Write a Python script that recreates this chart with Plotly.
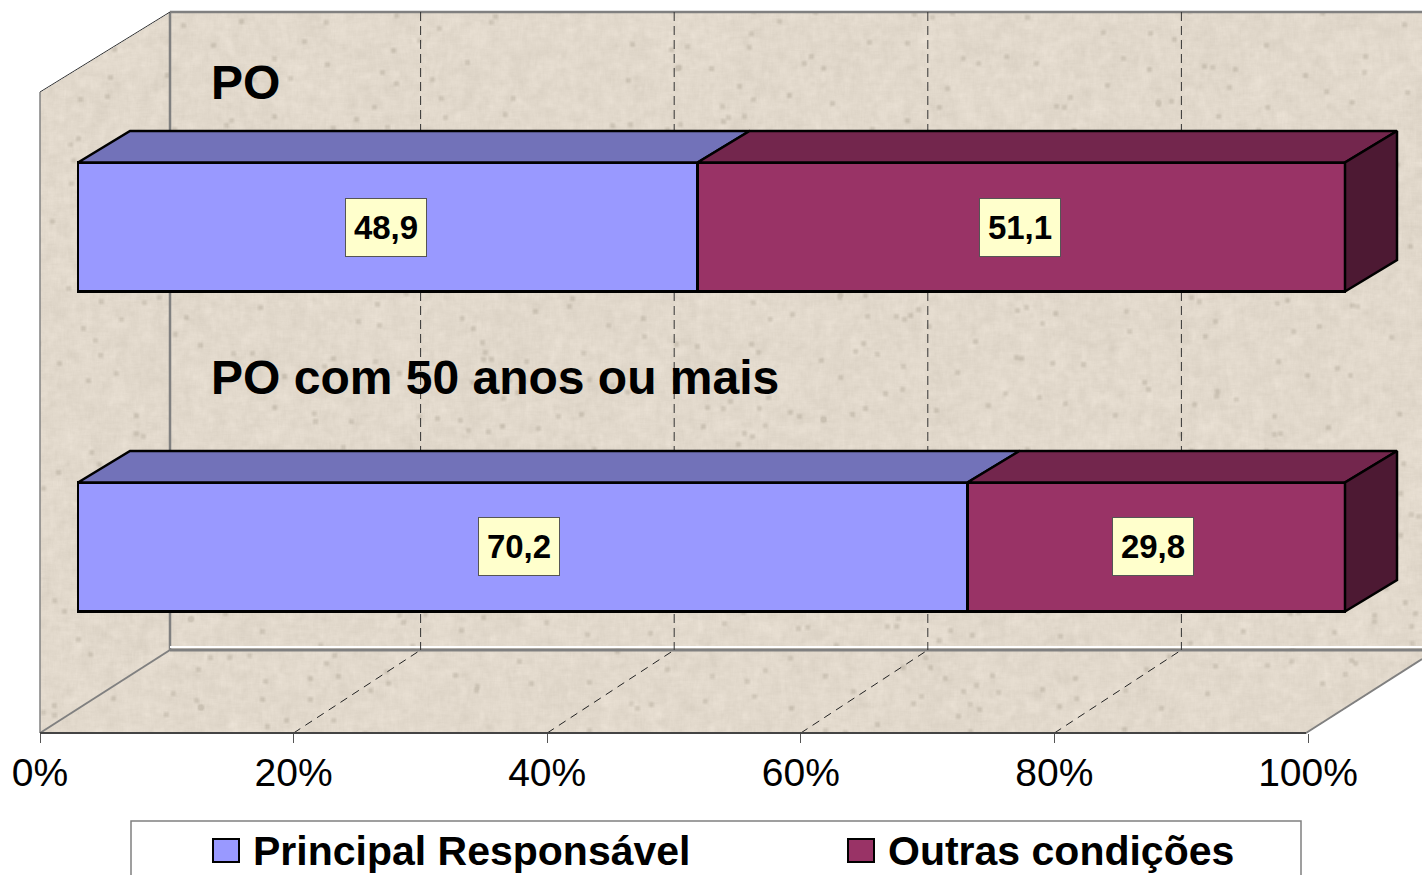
import base64
import struct
import zlib

import numpy as np
import plotly.graph_objects as go

# ---- data ----
categories = ["PO", "PO com 50 anos ou mais"]
series_names = ["Principal Responsável", "Outras condições"]
principal = [48.9, 70.2]
outras = [51.1, 29.8]
tick_values = [0, 20, 40, 60, 80, 100]
tick_labels = ["0%", "20%", "40%", "60%", "80%", "100%"]
grid_values = [20, 40, 60, 80]

W, H = 1422, 875
FONT = "Liberation Sans"
BLUE, BLUE_TOP = "#9999FF", "#7272B9"
MAROON, MAROON_TOP, MAROON_SIDE = "#993366", "#73264D", "#4D1933"
GREY = "#808080"

# pixel geometry of the frame
AX_L, AX_R = 40.0, 1308.0      # 0% and 100% of the tick axis
FLOOR_R = 1306.0
BAR_L, BAR_R = 78.0, 1345.0    # 0% and 100% of the front of the bars
AX_Y = 733.0
BACK_L, BACK_Y, TOP_Y = 170.0, 650.0, 12.0
GRID_DX = 127.0
SCALE_A = (AX_R - AX_L) / 100
SCALE_B = (BAR_R - BAR_L) / 100
ROW_PX = 320.0
ROW_0_PX = 547.0               # pixel centre of row y=0
BAR_W = 129.0 / ROW_PX
D_X = 52.0 / SCALE_B           # depth of the bars in data units
D_Y = 31.5 / ROW_PX


def px(p):
    return p / W


def py(p):
    return 1 - p / H


def wall_texture():
    """Decorative paper texture of the walls (deterministic), masked to the wall outline."""
    yy, xx = np.mgrid[0:H, 0:W].astype(float)

    def blur(a, r):
        for axis in (0, 1):
            c = np.cumsum(np.concatenate([np.zeros_like(np.take(a, [0], axis)), a], axis), axis)
            n = a.shape[axis]
            hi = np.clip(np.arange(n) + r + 1, 0, n)
            lo = np.clip(np.arange(n) - r, 0, n)
            a = (np.take(c, hi, axis) - np.take(c, lo, axis)) / np.expand_dims(hi - lo, 1 - axis)
        return a

    def grain(k):
        v = np.sin(xx * (12.9898 + k) + yy * (78.233 - k)) * 43758.5453
        return v - np.floor(v) - 0.5

    fine = blur(grain(0.0), 2) * 10
    mid = blur(grain(1.7), 5) * 24
    spots = blur(blur((grain(3.1) > 0.4993).astype(float), 2), 1) * -500
    tone = 2.5 * fine + 3 * mid
    tone = tone + np.clip(spots, -22, 0)
    rgb = np.stack([226 + tone, 217 + tone, 204 + tone * 1.05], -1)
    back = (xx >= BACK_L) & (yy >= TOP_Y) & (yy <= BACK_Y)
    side = (xx >= AX_L) & (xx < BACK_L) & (yy >= 92 - (xx - AX_L) * 80 / 130) & (yy <= AX_Y - (xx - AX_L) * 83 / 130)
    floor = (yy >= BACK_Y) & (yy <= AX_Y) & (xx >= AX_L + (AX_Y - yy) * 130 / 83) & (xx <= FLOOR_R + (AX_Y - yy) * 116 / 74)
    alpha = (back | side | floor) * 255.0
    img = np.clip(np.dstack([rgb, alpha]), 0, 255).astype(np.uint8)
    raw = b"".join(b"\x00" + img[r].tobytes() for r in range(H))

    def chunk(tag, data):
        return struct.pack(">I", len(data)) + tag + data + struct.pack(">I", zlib.crc32(tag + data) & 0xFFFFFFFF)

    png = (b"\x89PNG\r\n\x1a\n" + chunk(b"IHDR", struct.pack(">IIBBBBB", W, H, 8, 6, 0, 0, 0))
           + chunk(b"IDAT", zlib.compress(raw, 9)) + chunk(b"IEND", b""))
    return "data:image/png;base64," + base64.b64encode(png).decode()


y_pos = [1, 0]
fig = go.Figure()

for name, vals, col in [(series_names[0], principal, BLUE), (series_names[1], outras, MAROON)]:
    fig.add_trace(go.Bar(
        name=name, y=y_pos, x=vals, orientation="h", width=BAR_W,
        xaxis="x2", yaxis="y", marker=dict(color=col, line=dict(color="black", width=2.5)),
        showlegend=False, hoverinfo="x+name",
    ))


def face(xs, ys, color):
    fig.add_trace(go.Scatter(
        x=xs, y=ys, mode="lines", fill="toself", fillcolor=color,
        line=dict(color="black", width=2.5), xaxis="x2", yaxis="y",
        showlegend=False, hoverinfo="skip",
    ))


for yc, a, b in zip(y_pos, principal, outras):
    t = yc + BAR_W / 2
    bot = yc - BAR_W / 2
    face([0, a, a + D_X, D_X, 0], [t, t, t + D_Y, t + D_Y, t], BLUE_TOP)
    face([a, a + b, a + b + D_X, a + D_X, a], [t, t, t + D_Y, t + D_Y, t], MAROON_TOP)
    face([a + b, a + b + D_X, a + b + D_X, a + b, a + b],
         [bot, bot + D_Y, t + D_Y, t, bot], MAROON_SIDE)

# ---- frame lines ----
shapes = []


def seg(x0, y0, x1, y1, color, width, dash="solid"):
    shapes.append(dict(type="line", xref="paper", yref="paper", layer="below",
                       x0=px(x0), y0=py(y0), x1=px(x1), y1=py(y1),
                       line=dict(color=color, width=width, dash=dash)))


seg(BACK_L, TOP_Y, W, TOP_Y, GREY, 2.5)
seg(BACK_L, TOP_Y, BACK_L, BACK_Y, GREY, 2.5)
seg(AX_L, 92, BACK_L, TOP_Y, "#333333", 1)
seg(AX_L, 92, AX_L, AX_Y, GREY, 1.5)
seg(BACK_L, BACK_Y - 3, W, BACK_Y - 3, "white", 2)
seg(BACK_L, BACK_Y, W, BACK_Y, GREY, 3)
seg(AX_L, AX_Y, BACK_L, BACK_Y, GREY, 2)
seg(FLOOR_R, AX_Y, W, 659, GREY, 2)
for v in grid_values:
    xf = AX_L + v * SCALE_A
    seg(xf + GRID_DX, TOP_Y, xf + GRID_DX, BACK_Y, "#333333", 1, "9px,5px")
    seg(xf, AX_Y, xf + GRID_DX, BACK_Y, "#222222", 1, "8px,6px")
# the axis base line lives on the tick axis, which also keeps that axis drawn
shapes.append(dict(type="line", xref="x", yref="paper", x0=0, x1=(FLOOR_R - AX_L) / SCALE_A,
                   y0=py(AX_Y), y1=py(AX_Y), line=dict(color="#444444", width=2), layer="below"))

# ---- annotations ----
ann = []


def label(xv, yv, val, shift_x, shift_y):
    ann.append(dict(x=xv, y=yv, xref="x2", yref="y", text=f"<b>{val:.1f}</b>".replace(".", ","),
                    showarrow=False, width=80, height=57, bgcolor="#FFFFCC", xshift=shift_x, yshift=shift_y,
                    bordercolor="#555555", borderwidth=1, borderpad=0, align="center", valign="middle",
                    font=dict(family=FONT, size=33, color="black")))


label(principal[0] / 2, y_pos[0], principal[0], -1.5, 0)
label(principal[0] + outras[0] / 2, y_pos[0], outras[0], -1, 0)
label(principal[1] / 2, y_pos[1], principal[1], -4, 1)
label(principal[1] + outras[1] / 2, y_pos[1], outras[1], -3, 1)

for cat, yp in zip(categories, [82, 378]):
    ann.append(dict(x=px(212), y=py(yp), xref="paper", yref="paper", xanchor="left", yanchor="middle",
                    text=f"<b>{cat}</b>", showarrow=False, xshift=-3,
                    font=dict(family=FONT, size=48, color="black")))

# ---- legend, partly cut off by the page bottom as in the source ----
shapes.append(dict(type="rect", xref="paper", yref="paper", x0=px(131), x1=px(1301), y0=py(890), y1=py(821),
                   fillcolor="white", line=dict(color=GREY, width=1.5), layer="below"))
for x0, name, col in [(213, series_names[0], BLUE), (848, series_names[1], MAROON)]:
    shapes.append(dict(type="rect", xref="paper", yref="paper", x0=px(x0), x1=px(x0 + 26),
                       y0=py(862), y1=py(839), fillcolor=col, line=dict(color="black", width=2), layer="above"))
    ann.append(dict(x=px(x0 + 38), y=py(851), xref="paper", yref="paper", xanchor="left", yanchor="middle",
                    text=f"<b>{name}</b>", showarrow=False,
                    font=dict(family=FONT, size=41, color="black")))

row_top = ROW_0_PX / ROW_PX
row_bot = -(AX_Y - ROW_0_PX) / ROW_PX

fig.update_layout(
    width=W, height=H, autosize=False, margin=dict(l=0, r=0, t=0, b=0, autoexpand=False),
    paper_bgcolor="white", plot_bgcolor="rgba(0,0,0,0)", showlegend=False, barmode="stack",
    font=dict(family=FONT), shapes=shapes, annotations=ann,
    images=[dict(source=wall_texture(), xref="paper", yref="paper", x=0, y=1, sizex=1, sizey=1,
                 sizing="stretch", layer="below", xanchor="left", yanchor="top")],
    xaxis=dict(domain=[0, 1], range=[-AX_L / SCALE_A, (W - AX_L) / SCALE_A], tickmode="array",
               tickvals=tick_values, ticktext=tick_labels, showgrid=False, zeroline=False,
               ticks="outside", ticklen=9, tickcolor="#555555", tickwidth=1,
               showline=False, anchor="y", ticklabelstandoff=-4,
               tickfont=dict(family=FONT, size=39, color="black")),
    xaxis2=dict(overlaying="x", range=[-BAR_L / SCALE_B, (W - BAR_L) / SCALE_B], visible=False, anchor="y"),
    yaxis=dict(domain=[(H - AX_Y) / H, 1], range=[row_bot, row_top], visible=False, fixedrange=True),
)

fig.write_html("out.html", config={"displayModeBar": False},
               post_script="document.body.style.margin='0';")
